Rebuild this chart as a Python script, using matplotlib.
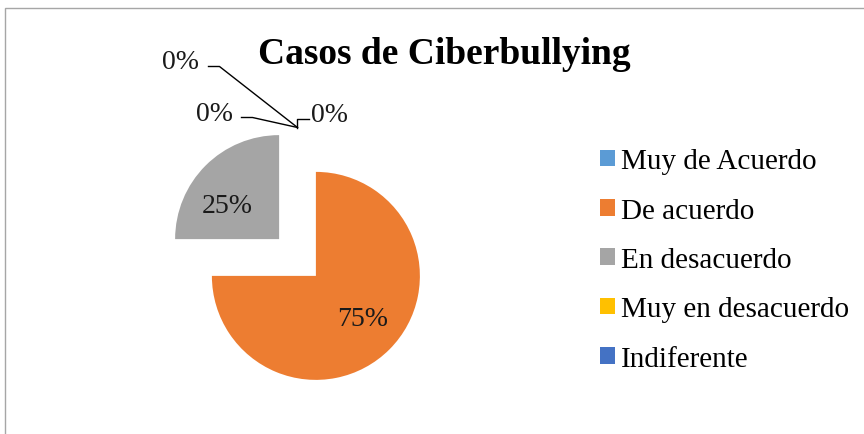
import numpy as np
import matplotlib
matplotlib.use("Agg")
import matplotlib.pyplot as plt
from matplotlib.patches import Rectangle

plt.rcParams['font.family'] = ['Liberation Serif', 'DejaVu Serif']

# Chart data
title = "Casos de Ciberbullying"
categories = ["Muy de Acuerdo", "De acuerdo", "En desacuerdo",
              "Muy en desacuerdo", "Indiferente"]
values = [0, 75, 25, 0, 0]
colors = ["#5B9BD5", "#ED7D31", "#A5A5A5", "#FFC000", "#4472C4"]

W, H = 864, 435
fig = plt.figure(figsize=(W / 100, H / 100), dpi=100)
ax = fig.add_axes([0, 0, 1, 1])

wedges, texts, autotexts = ax.pie(
    values, colors=colors, startangle=90, counterclock=False,
    explode=[0.25] * len(values), radius=1.0,
    autopct=lambda p: f"{p:.0f}%" if p > 0 else "",
    pctdistance=0.6, wedgeprops=dict(linewidth=0),
    textprops=dict(fontsize=20, color="#1a1a1a"))

# put the pie where it sits in the original: 104 px per unit
px = 104.0
cx, cy = 297.5, 258.5
ax.set_xlim(-cx / px, (W - cx) / px)
ax.set_ylim(-(H - cy) / px, cy / px)
ax.set_aspect('equal')
ax.axis('off')

# nudge the in-slice labels the way the original places them (px)
nudges = {1: (3, -2), 2: (-8, 11)}
for i, (dx, dy) in nudges.items():
    x, y = autotexts[i].get_position()
    autotexts[i].set_position((x + dx / px, y - dy / px))

# leader-line labels for the empty slices (offsets in px from the slice tip)
leaders = {
    0: dict(text=(32, -6), path=[(0, 0), (0, -9), (12, -9)]),
    3: dict(text=(-83, -7.5), path=[(0, 0), (-45, -10), (-56, -10)]),
    4: dict(text=(-117, -59), path=[(0, 0), (-78, -61), (-89, -61)]),
}
for i, lay in leaders.items():
    w = wedges[i]
    ang = np.deg2rad(w.theta1)
    ax0 = w.center[0] + w.r * np.cos(ang)
    ay0 = w.center[1] + w.r * np.sin(ang)
    xs = [ax0 + dx / px for dx, dy in lay["path"]]
    ys = [ay0 - dy / px for dx, dy in lay["path"]]
    ax.plot(xs, ys, color="black", lw=1, clip_on=False)
    tx, ty = lay["text"]
    ax.text(ax0 + tx / px, ay0 - ty / px, f"{values[i]:.0f}%",
            fontsize=20, color="#1a1a1a", ha="center", va="baseline")

fig.text(444.5 / W, 1 - 63.5 / H, title, fontsize=27, fontweight="bold",
         ha="center", va="baseline")

fig.legend(wedges, categories, loc="center left",
           bbox_to_anchor=(600 / W, 1 - 261 / H), frameon=False,
           fontsize=21, handlelength=0.5, handleheight=0.5,
           handletextpad=0.23, labelspacing=0.8, borderpad=0,
           borderaxespad=0)

# chart-area border (runs off the right and bottom edges)
fig.patches.append(Rectangle((5 / W, -0.1), 1.2, 1 - 9 / H + 0.1,
                             transform=fig.transFigure, fill=False,
                             edgecolor="#A6A6A6", lw=1))

fig.savefig("out.png", dpi=100)
